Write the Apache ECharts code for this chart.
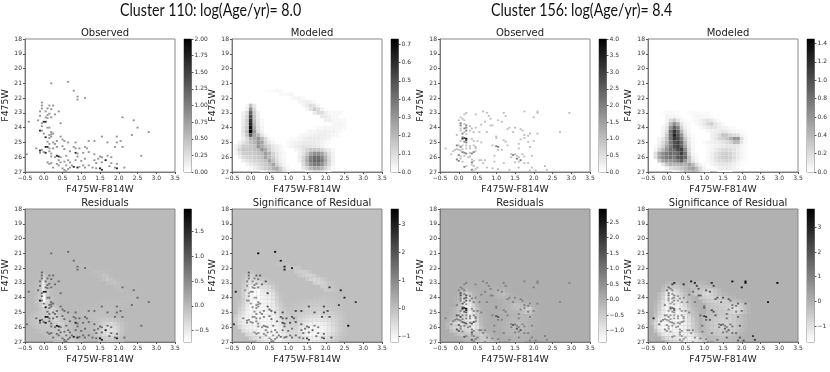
<!DOCTYPE html>
<html><head><meta charset="utf-8">
<script src="https://cdn.jsdelivr.net/npm/echarts@6/dist/echarts.min.js"></script>
<style>html,body{margin:0;background:#fff}#c{width:830px;height:372px;filter:blur(0.55px)}</style>
</head><body><div id="c"></div>
<script>
// observed stars: [F475W-F814W, F475W, count, significance]
const obs110=[[.2,21,1,3.4],[.65,20.9,1,3.4],[.8,21.5,1,3],[.9,21.9,1,3],[.9,22.1,1,3],[1.1,22,1,3],[-.05,22.3,1,1.8],[-.05,22.5,1,1.5],[.15,22.5,1,1.8],[.25,22.5,1,1.8],[-.05,22.7,1,1.2],[.1,22.7,1,1.3],[.2,22.75,1,1.4],[-.1,22.9,1,1.2],[.05,22.9,1,1],[.4,22.9,1,2],[.15,23.05,1,1.2],[.1,23.15,1,1.2],[.3,23.1,1,1.6],[-.1,23.2,1,1],[.05,23.3,1,1],[.1,23.35,1,1],[.2,23.3,1,1.2],[-.15,23.5,1,1],[-.4,23.6,1,3],[0,23.6,2,1.2],[.05,23.6,2,1.2],[-.05,23.7,1,.8],[.45,23.7,1,2.4],[-.05,23.9,1,.8],[.1,24,1,.8],[.15,24,1,.9],[-.1,24.2,2,.9],[-.05,24.2,1,.8],[.2,24.3,1,1],[.2,24.45,1,1],[.15,24.5,1,1],[.25,24.4,1,1],[0,24.4,1,.8],[.05,24.65,2,1],[.15,24.7,1,1],[.2,24.6,1,1],[.45,24.6,1,1.8],[.5,24.8,1,1.8],[.55,24.9,1,1.8],[.35,24.9,1,1.2],[.1,24.95,1,1],[.25,25,1,1],[.15,25.1,1,1],[.3,25.1,1,1.2],[.65,25,1,2],[.85,25,1,2.2],[1.2,24.9,1,2.4],[1.35,24.9,1,2.4],[1.55,24.6,1,2.2],[1.95,24.6,1,2.2],[2.05,24.9,1,2.2],[1.95,25,1,2.2],[1.7,25,1,2],[2.1,23.3,1,2.6],[2.4,23.5,1,3],[2.5,24,1,2.8],[2.8,24.3,1,2.6],[2.35,24.5,1,2.4],[1.9,25.3,1,2],[2.1,25.3,1,2],[2.6,25.9,1,3.4],[.05,25.3,2,1],[.1,25.3,2,1.1],[-.2,25.4,1,1.2],[-.1,25.55,2,1.2],[-.05,25.5,1,1],[.15,25.4,1,1],[.25,25.4,1,1],[.35,25.3,1,1.2],[.5,25.25,1,1.4],[.15,25.6,1,1],[0,25.65,1,1],[.05,25.7,2,1],[-.45,25.8,1,2.6],[-.1,25.7,1,1],[.2,25.75,1,1],[.35,25.9,2,1.4],[.4,25.95,2,1.4],[.45,26,1,1.2],[.3,26,1,1],[.2,25.95,1,1],[.6,25.9,1,1.4],[.85,25.7,2,2.4],[.9,25.75,1,2.2],[.7,25.6,1,1.6],[.55,25.45,1,1.4],[.8,25.3,1,2],[.85,25.4,1,2],[.95,25.4,1,2],[.9,25.95,1,1.8],[1.1,25.3,1,2],[1.15,25.4,1,2],[1.05,25.7,1,2],[1.2,25.65,1,2],[1.35,25.8,1,1.8],[1.5,25.95,1,1.5],[1.55,26,1,1.5],[1.45,26.1,1,1.4],[1.65,26.2,2,1.8],[1.7,25.9,1,1.3],[1.8,26,1,1.3],[1.35,26.2,1,1.4],[1.4,26.4,1,1.5],[1.55,26.35,1,1.4],[1.8,26.4,1,1.4],[1.95,26.45,1,1.6],[1.95,26.75,2,2.2],[1.9,26.7,1,1.6],[1.75,26.6,1,1.4],[1.5,26.75,2,2.2],[1.55,26.85,2,2.2],[1.3,26.7,1,1.6],[1.4,26.75,1,1.6],[2.15,26.7,1,2],[.1,26.35,1,1],[.15,26.45,1,1],[.2,26.4,1,1],[.35,26.45,1,1],[.4,26.2,1,1.2],[.45,26.35,1,1],[.55,26.3,1,1],[.65,26.2,1,1.2],[.7,26.35,1,1.2],[.6,26.55,1,1],[.75,26.55,1,1.2],[.8,26.65,2,1.6],[.9,26.7,2,1.8],[.95,26.65,1,1.5],[1.05,26.55,1,1.5],[1.1,26.7,1,1.6],[1.2,26.55,1,1.5],[1,26.25,1,1.5],[.85,26.2,1,1.4],[1.1,26.1,1,1.4],[.25,26.7,1,.9],[.5,26.75,1,.9],[.55,26.85,1,1],[.65,26.8,1,1.1],[.7,26.7,1,1.2],[.55,27,1,1.4],[.6,26.95,1,1.3],[.4,26.55,1,1]];
const obs156=[[.2,23,1,3],[.15,23.1,1,2.4],[.45,23.1,1,3],[.65,22.9,1,3.2],[.75,23,1,3],[.8,23.2,1,2.4],[1.2,23,1,3],[1.25,23.2,1,2.4],[1.75,22.9,1,3.5],[2.1,22.9,1,3.6],[2.1,23,1,3.4],[2.95,23,1,3.7],[2,23.3,1,3],[.85,23.4,1,2],[1.05,23.5,1,1.8],[1.15,23.6,1,1.8],[.05,23.3,1,1.6],[.1,23.4,1,1.3],[.15,23.5,1,1],[0,23.5,1,1.4],[.7,23.6,1,1.6],[.85,23.85,1,1.8],[.9,23.85,1,2],[.6,23.8,1,1.2],[.05,23.7,2,1.2],[.05,23.85,2,1.2],[.15,23.75,1,.7],[.2,23.85,2,.9],[.3,23.9,1,.6],[.35,24.05,1,.6],[.45,24,1,.8],[.2,24,2,1],[.15,24.05,2,.9],[.05,24.05,1,.8],[.05,24.2,1,.6],[.2,24.2,2,.9],[.15,24.3,1,.5],[.3,24.2,1,.5],[.4,24.3,1,.6],[.55,24.3,1,.9],[.1,24.4,2,.7],[.2,24.45,1,.5],[-.05,24.5,1,1],[.75,24.3,1,1.2],[1,24.6,1,1.6],[1,24.7,1,1.6],[1.3,24.1,1,1.8],[1.35,24,1,1.8],[1.5,24,1,2],[1.65,24.1,1,1.8],[1.45,24.3,1,1.6],[1.7,24.2,1,1.6],[1.75,24.5,1,1.4],[1.9,24.4,1,1.8],[1.75,24.7,1,1.2],[1.85,24.55,1,1.2],[2.1,24.4,1,2],[2.7,24.3,1,3.2],[2,24.9,1,1.4],[1.85,24.95,1,1],[1.65,24.8,1,1],[1.6,25.1,1,1.4],[1.6,25.4,1,1.4],[1.9,25.3,1,1.4],[1.95,25.9,1,1.8],[1.3,25.2,1,2],[1.2,24.85,1,2.2],[1.25,24.95,1,2],[.1,24.65,2,1.2],[.1,24.75,3,1.6],[.15,24.7,3,1.6],[.2,24.75,4,2],[.2,24.85,3,1.6],[.05,24.9,1,.5],[.15,24.95,2,.8],[.2,25,2,.8],[.35,24.75,1,.6],[.4,24.9,1,.6],[.5,24.9,1,.8],[.6,25,1,1.2],[-.05,25.2,2,1],[0,25.2,1,.6],[.05,25.3,2,.9],[.1,25.2,1,.6],[.2,25.2,1,.6],[.3,25.25,1,.5],[.4,25.2,1,.6],[.45,25.3,1,.6],[-.35,25.4,1,2.8],[-.1,25.5,1,1],[-.05,25.45,1,.7],[0,25.5,1,.6],[.05,25.55,1,.6],[.1,25.45,1,.6],[.2,25.4,1,.5],[.3,25.4,1,.5],[.45,25.4,1,.6],[-.2,25.8,1,1.6],[-.15,25.6,1,1.2],[.1,25.65,2,.9],[.15,25.7,2,.9],[.2,25.75,2,.9],[.3,25.7,1,.6],[.35,25.75,2,.9],[.4,25.65,2,1],[.45,25.6,1,.7],[0,25.85,2,.9],[.05,25.95,1,.6],[.15,25.9,1,.5],[.25,26,1,.5],[.3,25.95,1,.6],[-.05,26.15,2,1],[0,26.25,2,1],[.05,26.1,1,.6],[.1,26.3,1,.5],[.35,26.15,1,.7],[.4,26.25,1,.7],[.35,26.35,2,.9],[.15,26.65,2,1],[.2,26.6,1,.6],[.35,26.5,1,.6],[.4,26.6,1,.6],[.55,26.2,1,.7],[.6,26.2,1,.7],[.7,26.2,1,.9],[.65,26.4,1,.7],[.45,26.8,1,.5],[.35,26.85,2,.9],[.4,26.95,1,.5],[.5,26.7,1,.5],[.75,26.7,1,.8],[.7,27,1,.6],[.9,26.75,1,1.2],[.95,26.3,1,1.2],[.95,25.9,1,1.4],[.9,25.2,1,1.6],[1,25.25,2,2.6],[1.05,25.3,2,2.6],[1.15,25.5,1,1.8],[1.05,25.5,1,1.6],[1.2,26.4,1,1.3],[1.05,26.8,1,1],[1.1,27,1,1],[1.4,25.8,1,1.2],[1.45,25.85,2,1.8],[1.5,25.8,1,1.2],[1.55,25.9,1,1.2],[1.6,26,1,1.2],[1.4,26,1,1.2],[1.55,26.1,2,1.8],[1.65,26.2,2,1.8],[1.7,25.8,1,1.2],[1.75,25.95,1,1.2],[1.75,26.4,1,1.3],[1.85,26.4,1,1.4],[1.5,26.35,1,1.2],[1.6,26.3,1,1.2],[2.3,26.6,1,2.6],[2.35,26.85,1,2.6],[2.05,26.9,1,2],[1.95,26.7,1,2],[1.9,26.9,1,1.8],[1.6,26.7,1,1.6],[1.35,26.85,1,1.4]];
// model cell rows: [F475W, first colour, values in hundredths]; each value is one colour bin further along
const model110=[[21.5,.5,[1,1,2,2]],[21.75,.8,[2,2,2,3]],[22,1.1,[2,3,3,2]],[22.25,1.3,[3,4,5,4,2]],[22.5,1.4,[3,6,10,8,3]],[22.5,-.1,[3,18,6]],[22.75,1.5,[3,8,15,10,4,1]],[22.75,-.1,[4,32,10]],[23,1.7,[6,10,10,5,2,2,2,2]],[23,-.2,[4,10,45,14,4]],[23.25,1.9,[6,6,4,2,2]],[23.25,-.2,[5,12,52,16,5]],[23.5,2,[5,5,3,2,2,2]],[23.5,-.2,[6,14,58,18,6,2]],[23.75,-.2,[6,14,62,20,7,2]],[23.75,2.2,[2,3,3,2]],[24,-.2,[8,16,68,24,8,3]],[24,1.8,[2,2,3,3,3,3,3,2]],[24.25,-.2,[8,18,72,30,10,4]],[24.25,1.5,[2,3,3,4,4,4,4,4,3,2]],[24.5,-.2,[6,16,48,26,20,8,3]],[24.5,1.3,[2,3,3,4,5,5,5,5,4,3,2]],[24.75,-.2,[4,10,22,24,30,20,10,3,1]],[24.75,1.1,[2,2,3,4,5,6,6,6,5,4,3,1]],[25,-.3,[4,8,12,18,22,30,26,12,6,3,1]],[25,1,[2,3,4,5,6,6,6,6,5,4,3,1]],[25.25,-.4,[3,8,14,14,16,18,30,24,16,12,7,5,3,1]],[25.25,1,[2,3,5,6,8,8,8,7,6,4,2]],[25.5,-.4,[4,12,16,16,16,18,20,30,24,14,8,5,3,1]],[25.5,1.2,[3,5,8,12,15,16,15,12,8,5,2]],[25.75,-.4,[3,8,14,15,15,16,18,20,28,22,12,7,4,2]],[25.75,1.3,[4,8,16,26,32,32,26,16,9,4]],[26,-.3,[5,10,12,13,14,16,18,26,20,14,8,4,2]],[26,1.3,[5,12,22,36,42,42,34,22,11,4]],[26.25,-.2,[5,8,10,12,13,15,18,26,18,10,5,2]],[26.25,1.3,[4,12,24,38,44,44,38,24,12,4]],[26.5,-.1,[3,6,8,10,13,15,20,26,14,7,3,1]],[26.5,1.4,[10,20,32,38,38,32,20,10,3]],[26.75,0,[2,5,8,11,14,17,22,24,14,6,2]],[26.75,1.4,[6,12,20,24,24,20,12,6,2]],[27,.3,[5,8,12,16,20,18,10,4]],[27,1.5,[5,8,12,12,10,6,3]]];
const model156=[[23,-.1,[2,3,4,3,2]],[23,.6,[2,3,3,2,2,2]],[23.25,0,[6,6,6,4,2]],[23.25,.7,[3,5,5,5,4,3]],[23.5,0,[6,20,30,15,5,2]],[23.5,.7,[3,5,8,12,16,12,6,3]],[23.75,0,[10,40,65,45,15,5,2]],[23.75,.8,[4,8,14,22,28,16,8,4]],[24,-.1,[5,15,60,90,70,25,8,3]],[24,.9,[4,8,12,16,14,10,8,6,4,3]],[24.25,-.1,[6,20,80,115,90,40,14,4]],[24.25,1.1,[5,8,10,12,14,12,8,6,4,3,2]],[24.5,-.1,[8,28,80,125,100,60,20,6,2]],[24.5,1.2,[8,12,20,34,32,24,20,16,6,2]],[24.75,-.2,[6,14,35,80,115,105,75,32,10,3]],[24.75,1.2,[8,14,22,26,32,45,60,60,20,4]],[25,-.2,[8,20,40,75,100,110,85,40,12,4]],[25,1,[3,6,8,10,12,16,20,24,40,40,14,3]],[25.25,-.3,[3,12,25,50,75,100,110,90,50,15,4]],[25.25,1.1,[3,5,8,10,12,14,14,14,12,6,3]],[25.5,-.3,[5,22,40,60,80,85,105,110,65,20,5]],[25.5,1.1,[3,6,11,16,20,21,20,16,10,5,2]],[25.75,-.3,[18,50,65,75,85,80,90,110,80,25,7,2]],[25.75,1.1,[4,9,16,22,26,28,25,18,11,6,2]],[26,-.3,[18,50,65,75,80,75,95,100,85,35,10,4]],[26,1.1,[4,9,17,24,28,30,26,18,11,6,2]],[26.25,-.2,[28,50,58,60,65,75,90,60,35,15,5]],[26.25,1.1,[3,8,14,20,22,24,21,15,9,4,1]],[26.5,-.1,[14,32,42,40,42,46,45,55,40,20,8,3]],[26.5,1.2,[5,9,13,15,15,13,9,5,2]],[26.75,0,[8,18,22,25,32,40,50,55,38,20,7]],[26.75,1.3,[4,8,10,12,10,6,3]],[27,.2,[8,15,25,38,42,46,42,24,8,3]],[27,1.4,[3,4,4,3]]];
const sig110=[[21.75,.7,[-8,-10,-12,-10]],[22,1,[-15,-20,-20,-15]],[22.25,1.2,[-20,-28,-30,-25,-10]],[22.25,-.1,[-6,-12,-6]],[22.5,1.3,[-18,-30,-40,-40,-30,-10]],[22.5,-.2,[-6,-18,-35,-25,-6,-5]],[22.75,1.5,[-20,-38,-48,-40,-25,-8]],[22.75,-.2,[-12,-36,-50,-50,-36,-18,-12,-6,-3]],[23,1.7,[-30,-40,-38,-28,-12,-6]],[23,-.2,[-18,-42,-60,-65,-55,-42,-30,-18,-12,-5]],[23.25,1.9,[-28,-30,-22,-10,-5]],[23.25,-.2,[-25,-55,-85,-95,-85,-65,-55,-45,-24,-8]],[23.5,2,[-20,-20,-12,-6]],[23.5,-.2,[-30,-70,-105,-120,-110,-85,-70,-65,-45,-12]],[23.75,-.2,[-30,-75,-110,-125,-115,-95,-85,-80,-65,-25,-6]],[24,-.2,[-30,-70,-110,-125,-120,-100,-90,-85,-70,-35,-10]],[24,1.7,[-6,-8,-10,-10,-8,-6,-5]],[24.25,-.3,[-10,-35,-75,-110,-125,-120,-105,-95,-90,-75,-40,-15]],[24.25,1.3,[-6,-8,-12,-14,-16,-16,-16,-14,-12,-10,-8,-6]],[24.5,-.3,[-15,-40,-80,-110,-120,-115,-105,-95,-90,-80,-50,-25,-10]],[24.5,1.1,[-6,-8,-12,-16,-20,-22,-24,-24,-22,-20,-16,-12,-8,-6]],[24.75,-.3,[-25,-50,-85,-110,-115,-110,-105,-100,-95,-85,-60,-35,-15,-8]],[24.75,1.1,[-10,-14,-18,-24,-28,-30,-32,-32,-30,-28,-22,-16,-10,-6]],[25,-.3,[-40,-65,-95,-110,-115,-115,-110,-105,-100,-90,-70,-45,-25,-14,-10]],[25,1.2,[-16,-20,-26,-32,-38,-40,-42,-40,-38,-34,-28,-20,-12,-6]],[25.25,-.4,[-25,-55,-80,-100,-105,-110,-110,-110,-105,-105,-95,-80,-55,-35,-22,-16,-14]],[25.25,1.3,[-30,-38,-46,-52,-56,-56,-54,-50,-44,-36,-26,-16,-8]],[25.5,-.4,[-35,-70,-90,-100,-105,-105,-105,-110,-110,-110,-100,-85,-65,-45,-30,-24,-22]],[25.5,1.3,[-40,-52,-62,-70,-74,-74,-70,-64,-56,-44,-32,-20,-10]],[25.75,-.4,[-25,-60,-85,-95,-100,-105,-105,-110,-110,-110,-105,-95,-75,-55,-40,-32,-30]],[25.75,1.3,[-52,-68,-82,-90,-95,-95,-90,-80,-68,-52,-36,-22,-10]],[26,-.3,[-45,-75,-90,-95,-100,-105,-110,-110,-115,-110,-100,-85,-65,-50,-40,-38]],[26,1.3,[-62,-80,-95,-105,-110,-110,-105,-92,-76,-58,-40,-24,-12]],[26.25,-.2,[-55,-75,-85,-90,-100,-105,-110,-115,-110,-100,-85,-70,-55,-48,-45]],[26.25,1.3,[-66,-85,-100,-110,-112,-112,-106,-94,-78,-58,-40,-24,-12]],[26.5,-.1,[-45,-65,-75,-85,-95,-100,-110,-115,-105,-95,-80,-65,-55,-50]],[26.5,1.3,[-60,-80,-95,-105,-108,-105,-98,-85,-70,-50,-34,-20,-10]],[26.75,0,[-40,-55,-70,-80,-90,-100,-105,-110,-100,-85,-70,-60,-55]],[26.75,1.3,[-55,-70,-85,-92,-95,-90,-82,-70,-55,-40,-25,-12]],[27,.2,[-40,-60,-75,-90,-95,-100,-90,-75,-62,-52,-48]],[27,1.3,[-50,-62,-75,-80,-80,-75,-65,-52,-40,-25,-12]]];
const sig156=[[23,0,[-15,-20,-25,-15]],[23,.6,[-10,-15,-20,-15,-10]],[23.25,-.1,[-15,-40,-50,-50,-40,-20,-8]],[23.25,.6,[-15,-25,-30,-30,-30,-25,-20,-10]],[23.5,-.1,[-30,-80,-100,-90,-70,-40,-15]],[23.5,.7,[-25,-35,-50,-60,-70,-60,-40,-20]],[23.75,-.2,[-20,-60,-120,-130,-120,-90,-60,-30,-10]],[23.75,.7,[-30,-50,-60,-80,-90,-70,-50,-25,-15,-10]],[24,-.2,[-30,-70,-130,-145,-135,-110,-85,-50,-20,-8]],[24,.9,[-50,-60,-70,-75,-60,-50,-40,-30,-20,-10]],[24.25,-.3,[-10,-40,-90,-135,-150,-145,-125,-100,-70,-30,-10]],[24.25,1,[-40,-55,-65,-70,-72,-65,-60,-50,-40,-30,-18,-8]],[24.5,-.3,[-15,-50,-100,-140,-150,-150,-135,-115,-85,-40,-15]],[24.5,1.1,[-35,-45,-55,-60,-65,-70,-75,-70,-70,-55,-30,-10]],[24.75,-.3,[-20,-60,-110,-145,-150,-150,-145,-125,-100,-55,-25,-10]],[24.75,1.1,[-30,-40,-50,-55,-60,-70,-85,-95,-90,-60,-30,-10]],[25,-.3,[-30,-75,-120,-145,-150,-150,-150,-135,-110,-70,-35,-15]],[25,1.1,[-25,-35,-45,-50,-55,-60,-70,-85,-85,-60,-30,-10]],[25.25,-.3,[-45,-90,-130,-150,-155,-155,-150,-140,-120,-85,-45,-20]],[25.25,1,[-20,-30,-40,-50,-55,-60,-62,-62,-55,-40,-25,-10]],[25.5,-.4,[-20,-70,-115,-140,-155,-155,-155,-150,-145,-125,-95,-55,-25]],[25.5,1,[-20,-32,-45,-55,-62,-68,-70,-66,-55,-40,-25,-10]],[25.75,-.4,[-25,-85,-130,-150,-155,-155,-155,-150,-145,-135,-105,-65,-30]],[25.75,1,[-20,-35,-50,-62,-72,-76,-76,-70,-58,-42,-26,-10]],[26,-.3,[-80,-130,-150,-155,-150,-150,-150,-145,-130,-105,-70,-35]],[26,1,[-18,-35,-50,-62,-72,-76,-76,-70,-58,-42,-26,-10]],[26.25,-.3,[-40,-105,-140,-145,-145,-140,-145,-145,-125,-105,-75,-40,-15]],[26.25,1,[-16,-30,-44,-55,-62,-66,-66,-60,-48,-34,-20,-8]],[26.5,-.2,[-60,-110,-125,-125,-130,-130,-135,-125,-125,-110,-80,-45,-20]],[26.5,1.1,[-25,-36,-44,-50,-52,-48,-40,-30,-18,-8]],[26.75,-.1,[-50,-90,-105,-110,-120,-125,-130,-135,-125,-110,-80,-45,-20]],[26.75,1.2,[-20,-28,-34,-36,-34,-28,-20,-10]],[27,0,[-40,-70,-85,-100,-110,-120,-125,-125,-110,-80,-45,-20]],[27,1.3,[-15,-20,-24,-24,-20,-14,-8]]];
const headings=["Cluster 110: log(Age/yr)= 8.0","Cluster 156: log(Age/yr)= 8.4"];
const xName="F475W-F814W", yName="F475W";
const panelTitles=["Observed","Modeled","Observed","Modeled","Residuals","Significance of Residual","Residuals","Significance of Residual"];
const rangesLo=[0,0,0,0,-.73,-1.2,-1.37,-1.65];
const rangesHi=[2,.73,4,1.45,1.95,3.55,2.92,3.75];
const barTicks=[[0,.25,.5,.75,1,1.25,1.5,1.75,2],[0,.1,.2,.3,.4,.5,.6,.7],[0,.5,1,1.5,2,2.5,3,3.5,4],[0,.2,.4,.6,.8,1,1.2,1.4],[-.5,0,.5,1,1.5],[-1,0,1,2,3],[-1,-.5,0,.5,1,1.5,2,2.5],[-1,0,1,2,3]];
const barDecimals=[2,1,1,1,1,0,1,0];

const POS=[[25,39],[232,39],[440,39],[648,39],[25,209],[232,209],[440,209],[648,209]];
const BARX=[184,391,599,807,184,391,599,807];
const W=150,H=133;
const expand=(rows,k)=>{const out=[];rows.forEach(([m,c0,vals])=>vals.forEach((v,i)=>out.push([+(c0+i*.1).toFixed(2),m,v*k])));return out;};
const panels=[
 {pts:obs110.map(p=>[p[0],p[1],p[2]*.85]),cells:[]},
 {pts:[],cells:expand(model110,.01)},
 {pts:obs156.map(p=>[p[0],p[1],p[2]]),cells:[]},
 {pts:[],cells:expand(model156,.01)},
 {pts:obs110.map(p=>[p[0],p[1],p[2]*.85]),cells:expand(model110,-.01)},
 {pts:obs110.map(p=>[p[0],p[1],p[3]]),cells:expand(sig110,.01)},
 {pts:obs156.map(p=>[p[0],p[1],p[2]*.75]),cells:expand(model156,-.01)},
 {pts:obs156.map(p=>[p[0],p[1],p[3]]),cells:expand(sig156,.01)}
];
const gray=(v,lo,hi)=>{let t=Math.max(0,Math.min(1,(v-lo)/(hi-lo)));const g=Math.round(255*(1-t));return `rgb(${g},${g},${g})`;};
const rectSeries=(idx,data,dx,dy,lo,hi)=>({type:'custom',xAxisIndex:idx,yAxisIndex:idx,clip:true,silent:true,data,
 renderItem:(p,api)=>{const a=api.coord([api.value(0)-dx/2,api.value(1)-dy/2]),b=api.coord([api.value(0)+dx/2,api.value(1)+dy/2]);
  return {type:'rect',shape:{x:a[0],y:a[1],width:b[0]-a[0],height:b[1]-a[1]},style:{fill:gray(api.value(2),lo,hi),stroke:null}};}});
const tickCol='#333',font='DejaVu Sans';
const grid=[],xAxis=[],yAxis=[],series=[],title=[];
const graphic=headings.map((t,i)=>({type:'text',x:[120,491][i],y:2,scaleX:.835,style:{text:t,font:'17px Lato',fill:'#111'}}));
panels.forEach((p,i)=>{
 const [x,y]=POS[i],lo=rangesLo[i],hi=rangesHi[i];
 grid.push({left:x,top:y,width:W,height:H,show:true,backgroundColor:gray(0,lo,hi),borderWidth:1,borderColor:'#888'});
 xAxis.push({type:'value',gridIndex:i,min:-.5,max:3.5,interval:.5,name:xName,nameLocation:'middle',nameGap:13,nameTextStyle:{fontFamily:font,fontSize:9.3,color:'#222'},
  splitLine:{show:false},axisLine:{onZero:false,lineStyle:{color:'#777',width:1}},axisTick:{length:2,lineStyle:{color:'#555'}},
  axisLabel:{fontFamily:font,fontSize:6,color:tickCol,margin:3,showMinLabel:true,showMaxLabel:true,formatter:v=>(v<0?'\u2212':'')+Math.abs(v).toFixed(1)}});
 yAxis.push({type:'value',gridIndex:i,inverse:true,min:18,max:27,interval:1,name:yName,nameLocation:'middle',nameGap:6,nameTextStyle:{fontFamily:font,fontSize:9.3,color:'#222'},
  splitLine:{show:false},axisLine:{onZero:false,lineStyle:{color:'#777',width:1}},axisTick:{length:2,lineStyle:{color:'#555'}},
  axisLabel:{fontFamily:font,fontSize:6,color:tickCol,margin:3,showMinLabel:true,showMaxLabel:true,formatter:v=>String(v)}});
 title.push({text:panelTitles[i],left:x+W/2,top:y-16,textAlign:'center',textStyle:{fontFamily:font,fontSize:10,fontWeight:'normal',color:'#222'}});
 series.push(rectSeries(i,p.cells,.1,.25,lo,hi));
 series.push(rectSeries(i,p.pts,.055,.12,lo,hi));
});
panels.forEach((p,i)=>{
 const k=8+i,lo=rangesLo[i],hi=rangesHi[i],d=barDecimals[i];
 grid.push({left:BARX[i],top:POS[i][1],width:7.5,height:H,show:true,backgroundColor:'#fff',borderWidth:1,borderColor:'#888'});
 xAxis.push({type:'value',gridIndex:k,min:0,max:1,show:false});
 yAxis.push({type:'value',gridIndex:k,position:'right',min:lo,max:hi,splitLine:{show:false},axisLine:{show:false,onZero:false},
  axisTick:{show:true,length:2,lineStyle:{color:'#555'},customValues:barTicks[i]},
  axisLabel:{fontFamily:font,fontSize:6,color:tickCol,margin:3,customValues:barTicks[i],formatter:v=>(v<0?'\u2212':'')+Math.abs(v).toFixed(d)}});
 series.push({type:'custom',xAxisIndex:k,yAxisIndex:k,silent:true,data:[[0,lo,1,hi]],
  renderItem:(q,api)=>{const a=api.coord([api.value(0),api.value(3)]),b=api.coord([api.value(2),api.value(1)]);
   return {type:'rect',shape:{x:a[0],y:a[1],width:b[0]-a[0],height:b[1]-a[1]},style:{fill:new echarts.graphic.LinearGradient(0,0,0,1,[{offset:0,color:'#000'},{offset:1,color:'#fff'}])}};}});
});
const chart=echarts.init(document.getElementById('c'),null,{renderer:'canvas'});
chart.setOption({animation:false,backgroundColor:'#fff',title,graphic,grid,xAxis,yAxis,series});
</script></body></html>
